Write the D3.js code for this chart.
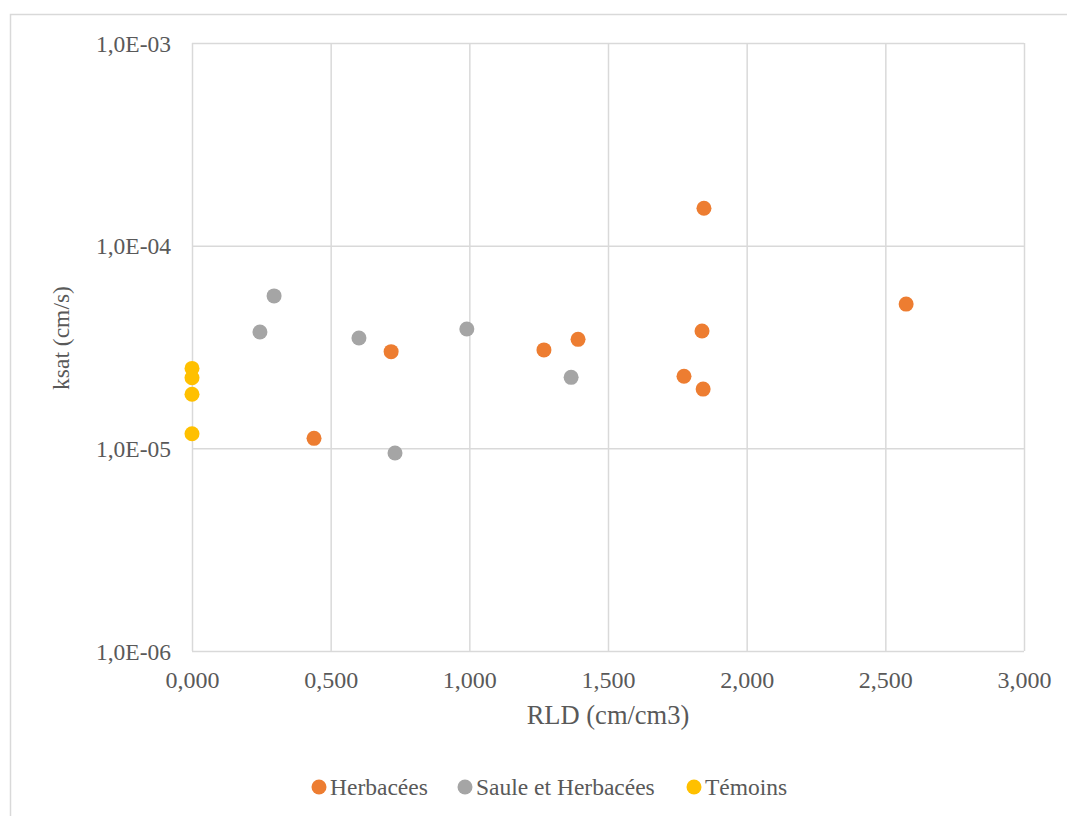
<!DOCTYPE html>
<html>
<head>
<meta charset="utf-8">
<script src="https://cdn.jsdelivr.net/npm/d3@7"></script>
<style>
  html, body { margin: 0; padding: 0; background: #fff; }
  svg { display: block; }
  svg text { font-family: "Liberation Serif", "Times New Roman", Times, "DejaVu Serif", serif; }
</style>
</head>
<body>
<svg id="chart" width="1067" height="816"></svg>
<script>
// Root length density (cm/cm3) vs saturated hydraulic conductivity (cm/s)
const seriesNames = ["Herbacées", "Saule et Herbacées", "Témoins"];
const seriesColors = ["#ED7D31", "#A5A5A5", "#FFC000"];

const herbaceesRLD  = [0.440, 0.718, 1.269, 1.392, 1.846, 1.839, 1.774, 1.843, 2.575];
const herbaceesKsat = [1.12e-5, 3.0e-5, 3.06e-5, 3.45e-5, 1.53e-4, 3.79e-5, 2.27e-5, 1.96e-5, 5.15e-5];

const sauleRLD  = [0.296, 0.245, 0.602, 0.991, 0.732, 1.367];
const sauleKsat = [5.65e-5, 3.75e-5, 3.50e-5, 3.88e-5, 9.48e-6, 2.24e-5];

const temoinsRLD  = [0, 0, 0, 0];
const temoinsKsat = [2.48e-5, 2.23e-5, 1.85e-5, 1.18e-5];

const xTicks = [0, 0.5, 1.0, 1.5, 2.0, 2.5, 3.0];
const yTicks = [1e-6, 1e-5, 1e-4, 1e-3];

const series = [
  { name: seriesNames[0], color: seriesColors[0], x: herbaceesRLD, y: herbaceesKsat },
  { name: seriesNames[1], color: seriesColors[1], x: sauleRLD, y: sauleKsat },
  { name: seriesNames[2], color: seriesColors[2], x: temoinsRLD, y: temoinsKsat }
];

const FONT = "'Liberation Serif', 'Times New Roman', Times, 'DejaVu Serif', serif";
const svg = d3.select("#chart");
const textColor = "#595959";
const gridColor = "#D9D9D9";

// chart frame
svg.append("rect")
  .attr("x", 10.5).attr("y", 14.5)
  .attr("width", 1100).attr("height", 900)
  .attr("fill", "#fff").attr("stroke", "#D9D9D9").attr("stroke-width", 1.5);

const plot = { left: 192, right: 1024, top: 43, bottom: 651 };

const x = d3.scaleLinear().domain([0, 3]).range([plot.left, plot.right]);
const y = d3.scaleLog().domain([1e-6, 1e-3]).range([plot.bottom, plot.top]);

const fmtX = v => d3.format(".3f")(v).replace(".", ",");
const fmtY = v => {
  const e = Math.round(Math.log10(v));
  const s = (e < 0 ? "-" : "+") + String(Math.abs(e)).padStart(2, "0");
  return "1,0E" + s;
};

// vertical gridlines + x tick labels
const xAxis = d3.axisBottom(x).tickValues(xTicks).tickSize(-(plot.bottom - plot.top)).tickFormat(fmtX);
const gx = svg.append("g").attr("transform", `translate(0,${plot.bottom})`).call(xAxis)
  .attr("font-family", FONT);
gx.select(".domain").remove();
gx.selectAll(".tick line").attr("stroke", gridColor).attr("stroke-width", 1.5);
gx.selectAll(".tick text")
  .attr("y", 37).attr("dy", null)
  .attr("fill", textColor).attr("font-size", 24);

// horizontal gridlines + y tick labels
const yAxis = d3.axisLeft(y).tickValues(yTicks).tickSize(-(plot.right - plot.left)).tickFormat(fmtY);
const gy = svg.append("g").attr("transform", `translate(${plot.left},0)`).call(yAxis)
  .attr("font-family", FONT);
gy.select(".domain").remove();
gy.selectAll(".tick line").attr("stroke", gridColor).attr("stroke-width", 1.5);
gy.selectAll(".tick text")
  .attr("x", -21).attr("dy", "0.34em")
  .attr("fill", textColor).attr("font-size", 23.5);

// axis titles
svg.append("text")
  .attr("x", (plot.left + plot.right) / 2).attr("y", 724)
  .attr("text-anchor", "middle").attr("fill", textColor).attr("font-size", 26.5)
  .attr("font-family", FONT)
  .text("RLD (cm/cm3)");

svg.append("text")
  .attr("transform", `translate(69,338) rotate(-90)`)
  .attr("text-anchor", "middle").attr("fill", textColor).attr("font-size", 23.5)
  .attr("font-family", FONT)
  .text("ksat (cm/s)");

// points
series.forEach(s => {
  svg.append("g").selectAll("circle")
    .data(s.x.map((v, i) => [v, s.y[i]]))
    .join("circle")
    .attr("cx", d => x(d[0]))
    .attr("cy", d => y(d[1]))
    .attr("r", 7.5)
    .attr("fill", s.color);
});

// legend
const legendY = 787;
const legendItems = [
  { dot: 319, text: 330 },
  { dot: 465, text: 476 },
  { dot: 694, text: 705 }
];
const legend = svg.append("g").attr("font-family", FONT);
series.forEach((s, i) => {
  legend.append("circle")
    .attr("cx", legendItems[i].dot).attr("cy", legendY).attr("r", 7.5).attr("fill", s.color);
  legend.append("text")
    .attr("x", legendItems[i].text).attr("y", 795)
    .attr("fill", textColor).attr("font-size", 23.5)
    .text(s.name);
});
</script>
</body>
</html>
